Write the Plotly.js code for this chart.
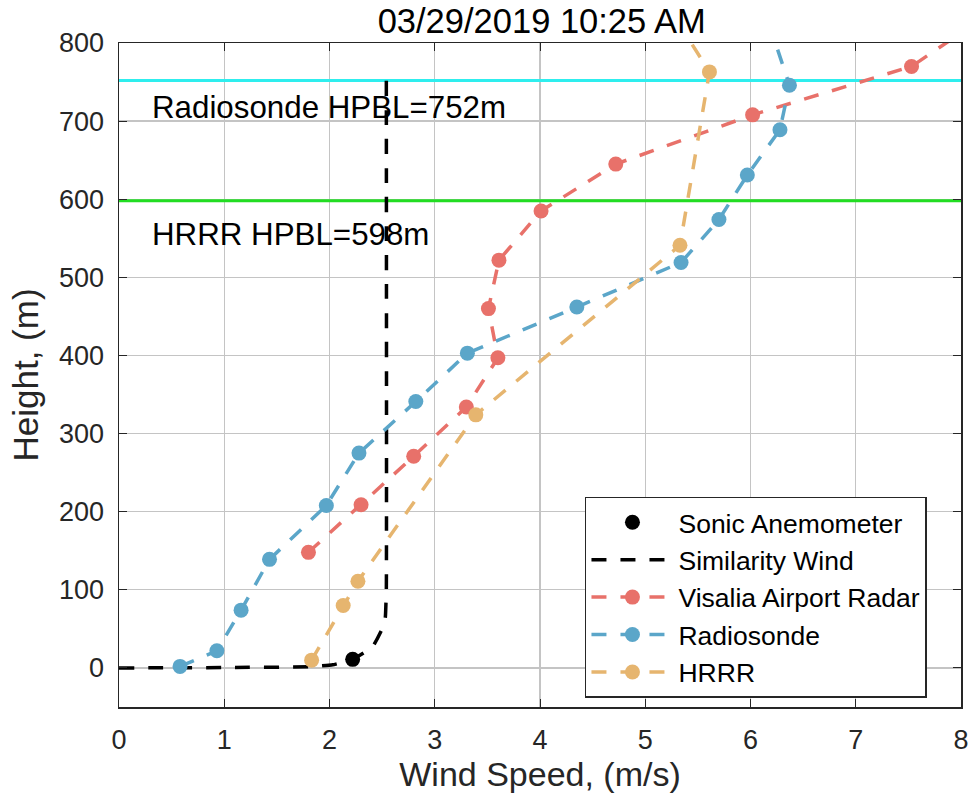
<!DOCTYPE html>
<html>
<head>
<meta charset="utf-8">
<script src="https://cdn.plot.ly/plotly-3.0.1.min.js"></script>
<style>html,body{margin:0;padding:0;background:#fff;}#chart{width:977px;height:804px;}</style>
</head>
<body>
<div id="chart"></div>
<script>
// Sonic anemometer
const sonicSpeed = [2.22];
const sonicHeight = [11];
// Similarity wind profile
const simSpeed = [0, 1.0, 1.8, 2.03, 2.22, 2.41, 2.50, 2.53, 2.54, 2.54];
const simHeight = [0, 0.5, 1.5, 4, 11, 27, 50, 64, 100, 752];
// Visalia Airport Radar
const radarSpeed = [1.80, 2.30, 2.80, 3.30, 3.60, 3.51, 3.61, 4.01, 4.72, 6.02, 7.53, 8.22];
const radarHeight = [148, 209, 271, 334, 397, 460, 522, 585, 645, 708, 770, 833];
// Radiosonde
const sondeSpeed = [0.58, 0.93, 1.16, 1.43, 1.97, 2.28, 2.82, 3.31, 4.35, 5.34, 5.70, 5.97, 6.28, 6.37, 6.20];
const sondeHeight = [2, 22, 74, 139, 208, 275, 341, 403, 462, 519, 574, 631, 689, 746, 815];
// HRRR
const hrrrSpeed = [1.83, 2.13, 2.27, 3.39, 5.33, 5.61, 5.32];
const hrrrHeight = [10, 80, 111, 324, 541, 763, 825];
// Boundary layer heights
const sondeHPBL = 752;
const hrrrHPBL = 598;
const xTicks = [0, 1, 2, 3, 4, 5, 6, 7, 8];
const yTicks = [0, 100, 200, 300, 400, 500, 600, 700, 800];

const cRed = '#E8716A', cBlue = '#5BA6C9', cOrange = '#E6B56F';
const font = 'Liberation Sans, Arial, sans-serif';
const dash = '15px,14px';

const traces = [
  {x: [0, 8], y: [sondeHPBL, sondeHPBL], mode: 'lines', line: {color: '#2EEEEE', width: 3}, showlegend: false, hoverinfo: 'skip'},
  {x: [0, 8], y: [hrrrHPBL, hrrrHPBL], mode: 'lines', line: {color: '#22DD22', width: 3}, showlegend: false, hoverinfo: 'skip'},
  {x: sonicSpeed, y: sonicHeight, name: 'Sonic Anemometer', mode: 'markers', marker: {color: '#000', size: 15}},
  {x: simSpeed, y: simHeight, name: 'Similarity Wind', mode: 'lines', line: {color: '#000', width: 3.5, dash: dash, shape: 'spline', smoothing: 0.3}},
  {x: radarSpeed, y: radarHeight, name: 'Visalia Airport Radar', mode: 'lines+markers', line: {color: cRed, width: 3.5, dash: dash}, marker: {color: cRed, size: 15}},
  {x: sondeSpeed, y: sondeHeight, name: 'Radiosonde', mode: 'lines+markers', line: {color: cBlue, width: 3.5, dash: dash}, marker: {color: cBlue, size: 15}},
  {x: hrrrSpeed, y: hrrrHeight, name: 'HRRR', mode: 'lines+markers', line: {color: cOrange, width: 3.5, dash: dash}, marker: {color: cOrange, size: 15}}
];

const axisCommon = {
  showline: true, mirror: 'ticks', linecolor: '#262626', linewidth: 1.5,
  ticks: 'inside', ticklen: 8, tickcolor: '#262626',
  showgrid: true, gridcolor: '#C4C4C4', gridwidth: 1.3, zeroline: false,
  tickfont: {family: font, size: 27, color: '#262626'},
  automargin: false
};

const layout = {
  width: 977, height: 804,
  margin: {l: 119, r: 16, t: 43, b: 97},
  paper_bgcolor: '#fff', plot_bgcolor: '#fff',
  font: {family: font, color: '#000'},
  title: {text: '03/29/2019 10:25 AM', font: {family: font, size: 34.5, color: '#000'}, x: 0.502, xref: 'paper', xanchor: 'center', y: 0.974, yanchor: 'middle', yref: 'container'},
  xaxis: Object.assign({}, axisCommon, {range: [0, 8], tickvals: xTicks, ticktext: xTicks.map(String), ticklabelstandoff: 8,
    title: {text: 'Wind Speed, (m/s)', font: {family: font, size: 34, color: '#262626'}, standoff: 0}}),
  yaxis: Object.assign({}, axisCommon, {range: [-50, 800], tickvals: yTicks, ticktext: yTicks.map(String), ticklabelstandoff: 8,
    title: {text: 'Height, (m)', font: {family: font, size: 35, color: '#262626'}, standoff: 10}}),
  legend: {x: 0.5534, y: 0.3163, xanchor: 'left', yanchor: 'top', bgcolor: '#fff', bordercolor: '#262626', borderwidth: 1.5,
    font: {family: font, size: 26.5, color: '#000'}, itemwidth: 82, tracegroupgap: 0},
  annotations: [
    {x: 0.29, y: 717, xref: 'x', yref: 'y', text: 'Radiosonde HPBL=' + sondeHPBL + 'm', showarrow: false, xanchor: 'left', yanchor: 'middle', font: {family: font, size: 31.3, color: '#000'}},
    {x: 0.29, y: 555, xref: 'x', yref: 'y', text: 'HRRR HPBL=' + hrrrHPBL + 'm', showarrow: false, xanchor: 'left', yanchor: 'middle', font: {family: font, size: 31.3, color: '#000'}}
  ],
  showlegend: true
};

Plotly.newPlot('chart', traces, layout, {displayModeBar: false, staticPlot: true});
</script>
</body>
</html>
